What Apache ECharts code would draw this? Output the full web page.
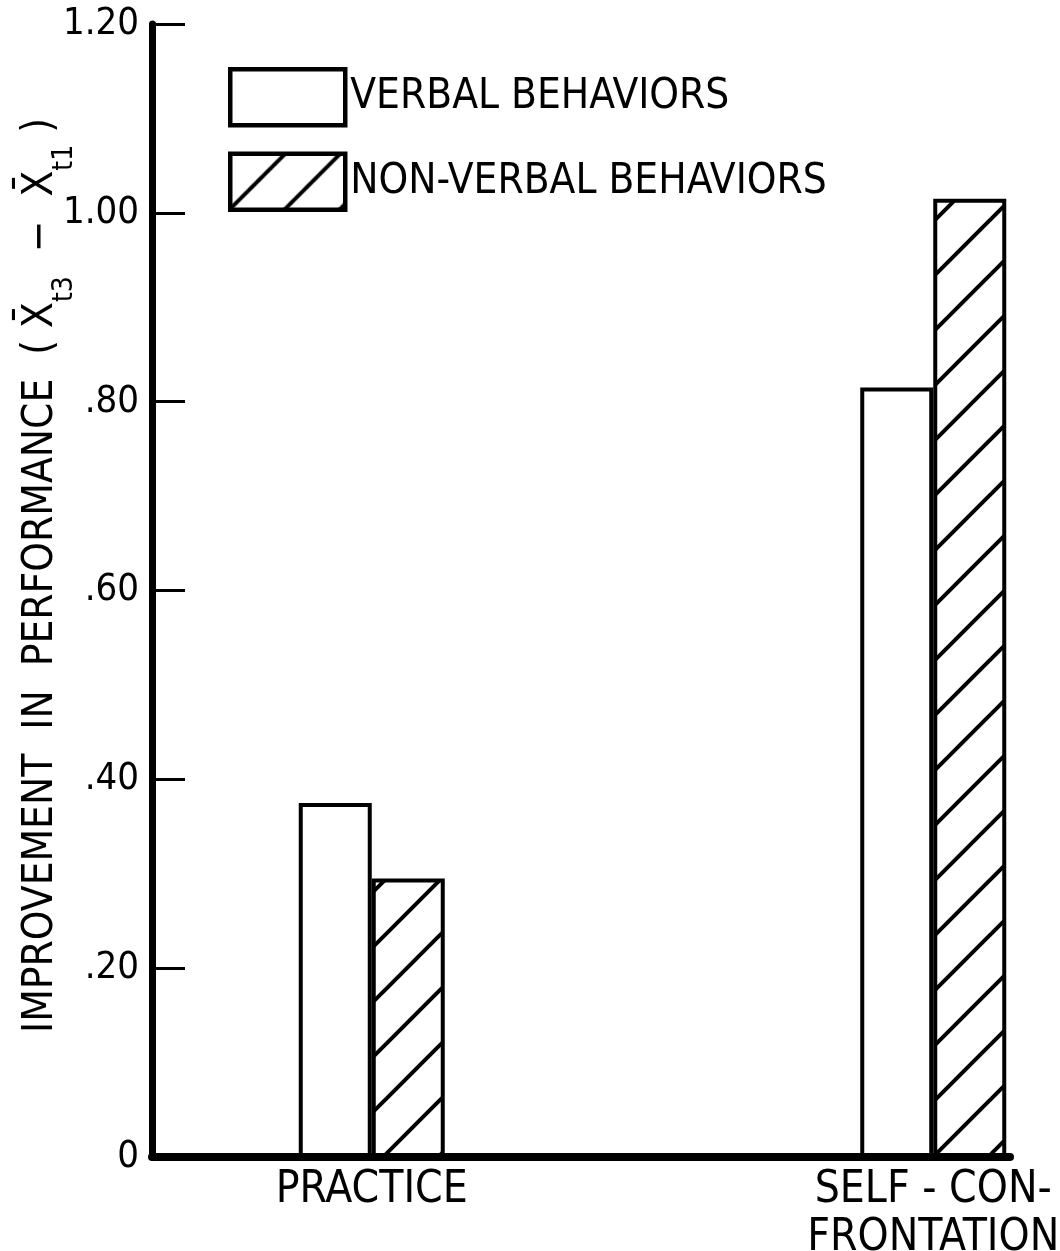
<!DOCTYPE html>
<html><head><meta charset="utf-8">
<script src="https://cdn.jsdelivr.net/npm/echarts@6/dist/echarts.min.js"></script>
<style>html,body{margin:0;padding:0;background:#fff}#c{width:1060px;height:1251px}</style>
</head><body><div id="c"></div>
<script>
const categories = ['PRACTICE', 'SELF - CON-\nFRONTATION'];
const seriesNames = ['VERBAL BEHAVIORS', 'NON-VERBAL BEHAVIORS'];
const verbal = [0.375, 0.815];
const nonVerbal = [0.295, 1.015];
const yTicks = [0, 0.2, 0.4, 0.6, 0.8, 1.0, 1.2];
const yTickLabels = ['0', '.20', '.40', '.60', '.80', '1.00', '1.20'];
const yTitle = '{a|IMPROVEMENT  IN  PERFORMANCE  ( X\u0304}{s|t3}{a|  \u2212  X\u0304}{s|t1}{a| )}';

const FONT = "'Liberation Sans Narrow', 'DejaVu Sans Condensed', 'Arial Narrow', sans-serif";

function hatch() {
  const s = 55;
  const c = document.createElement('canvas');
  c.width = s; c.height = s;
  const g = c.getContext('2d');
  g.fillStyle = '#fff'; g.fillRect(0, 0, s, s);
  g.strokeStyle = '#000'; g.lineWidth = 4;
  for (const k of [0, 1, 2]) {
    g.beginPath();
    g.moveTo(k * s + 2, -2);
    g.lineTo(k * s - s - 2, s + 2);
    g.stroke();
  }
  return c;
}
const hatchPattern = { image: hatch(), repeat: 'repeat' };

function fmtY(v) {
  for (let i = 0; i < yTicks.length; i++) if (Math.abs(yTicks[i] - v) < 1e-6) return yTickLabels[i];
  return '';
}

const chart = echarts.init(document.getElementById('c'), null, { renderer: 'canvas' });
chart.setOption({
  animation: false,
  backgroundColor: '#fff',
  grid: [
    { left: 152, top: 24, width: 858, height: 1133, containLabel: false, outerBoundsMode: 'none' },
    { left: 91, top: 24, width: 1123, height: 1133, containLabel: false, outerBoundsMode: 'none' }
  ],
  legend: {
    orient: 'vertical', left: 223, top: 62,
    itemWidth: 115, itemHeight: 56, itemGap: 24, icon: 'rect',
    textStyle: { fontSize: 42, color: '#000', fontFamily: FONT },
    itemStyle: { borderColor: '#000', borderWidth: 4.5 },
    data: seriesNames, selectedMode: false
  },
  xAxis: [
    { gridIndex: 0, type: 'value', min: 0, max: 1, z: 5,
      axisLine: { show: true, onZero: false, lineStyle: { color: '#000', width: 8 } },
      axisTick: { show: false }, axisLabel: { show: false }, splitLine: { show: false } },
    { gridIndex: 1, type: 'category', data: categories,
      axisLine: { show: false }, axisTick: { show: false }, splitLine: { show: false },
      axisLabel: { interval: 0, margin: 10, color: '#000', fontSize: 44, lineHeight: 48, fontFamily: FONT } }
  ],
  yAxis: [
    { gridIndex: 0, type: 'value', min: 0, max: 1.2, interval: 0.2, z: 5,
      axisLine: { show: true, lineStyle: { color: '#000', width: 7 } },
      axisTick: { show: true, inside: true, length: 33, lineStyle: { color: '#000', width: 3 } },
      axisLabel: { formatter: fmtY, margin: 13, fontSize: 38, color: '#000', fontFamily: FONT },
      splitLine: { show: false },
      name: yTitle, nameLocation: 'middle', nameRotate: 90, nameGap: 73, nameMoveOverlap: false,
      nameTextStyle: {
        color: '#000', fontFamily: FONT, fontSize: 42, padding: [0, 0, 0, 30],
        rich: {
          a: { fontSize: 42, lineHeight: 42, fontFamily: FONT, color: '#000' },
          s: { fontSize: 28, lineHeight: 76, verticalAlign: 'bottom', fontFamily: FONT, color: '#000' }
        }
      } },
    { gridIndex: 1, type: 'value', min: 0, max: 1.2, show: false }
  ],
  series: [
    { name: seriesNames[0], type: 'bar', xAxisIndex: 1, yAxisIndex: 1, data: verbal,
      barWidth: 73, barGap: '0%',
      itemStyle: { color: '#fff', borderColor: '#000', borderWidth: 4 },
      emphasis: { disabled: true } },
    { name: seriesNames[1], type: 'bar', xAxisIndex: 1, yAxisIndex: 1, data: nonVerbal,
      barWidth: 73, barGap: '0%',
      itemStyle: { color: hatchPattern, borderColor: '#000', borderWidth: 4 },
      emphasis: { disabled: true } }
  ]
});
</script></body></html>
